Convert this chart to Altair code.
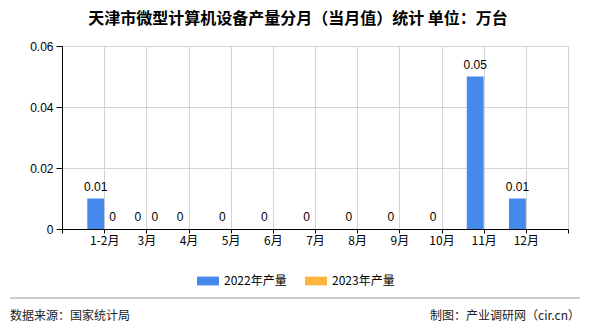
import altair as alt
import pandas as pd

months = ["1-2月", "3月", "4月", "5月", "6月", "7月", "8月", "9月", "10月", "11月", "12月"]
v2022 = [0.01, 0, 0, 0, 0, 0, 0, 0, 0, 0.05, 0.01]
months2023 = ["1-2月", "3月"]
v2023 = [0, 0]
series = ["2022年产量", "2023年产量"]
colors = ["#4489EB", "#FDB53F"]
y_ticks = [0, 0.02, 0.04, 0.06]
title_text = "天津市微型计算机设备产量分月（当月值）统计  单位：万台"
source_text = "数据来源：国家统计局"
credit_text = "制图：产业调研网（cir.cn）"

rows = []
for m, v in zip(months, v2022):
    rows.append({"month": m, "pos": months.index(m) + 1, "series": series[0], "value": v})
for m, v in zip(months2023, v2023):
    rows.append({"month": m, "pos": months.index(m) + 1, "series": series[1], "value": v})
df = pd.DataFrame(rows)

W, H = 506, 183
CJK = "Noto Sans CJK SC"
LAT = "Liberation Sans"

label_arr = "[" + ",".join("'%s'" % s for s in [""] + months + [""]) + "][datum.value]"

base = alt.Chart(df).transform_calculate(
    x0=f"datum.series == '{series[0]}' ? datum.pos - 0.4 : datum.pos",
    x1=f"datum.series == '{series[0]}' ? datum.pos : datum.pos + 0.4",
    xm=f"datum.series == '{series[0]}' ? datum.pos - 0.2 : datum.pos + 0.2",
)

xscale = alt.Scale(domain=[0, len(months) + 1], nice=False, zero=False, padding=0)
yscale = alt.Scale(domain=[0, 0.06], nice=False, padding=0)

bars = base.mark_bar().encode(
    x=alt.X("x0:Q", scale=xscale, axis=alt.Axis(
        values=list(range(len(months) + 2)), labelExpr=label_arr, grid=True,
        gridColor="#d4d4d4", domainColor="#000", tickColor="#000", tickSize=4,
        labelFont=CJK, labelFontSize=12, labelColor="#000", labelPadding=2, title=None)),
    x2="x1:Q",
    y=alt.Y("value:Q", scale=yscale, axis=alt.Axis(
        values=y_ticks, format=".2~f", grid=True, gridColor="#d4d4d4",
        domainColor="#000", tickColor="#000", tickSize=6, labelFont=LAT,
        labelFontSize=12, labelColor="#000", labelPadding=3, title=None)),
    y2=alt.datum(0),
    color=alt.Color("series:N", scale=alt.Scale(domain=series, range=colors),
                    legend=alt.Legend(orient="none", legendX=135, legendY=224,
                                      direction="horizontal", title=None,
                                      symbolType="M-1,-0.4L1,-0.4L1,0.4L-1,0.4Z",
                                      symbolSize=484, symbolStrokeWidth=0,
                                      labelFont=CJK, labelFontSize=12, labelColor="#000",
                                      labelOffset=5, columnPadding=18)),
)

labels = base.mark_text(dy=-8, baseline="alphabetic", fontSize=12, font=LAT, color="#000").encode(
    x="xm:Q", y="value:Q", text=alt.Text("value:Q", format=".2~f"))

info = pd.DataFrame({"title": [title_text], "src": [source_text], "credit": [credit_text]})
ib = alt.Chart(info)
title = ib.mark_text(fontSize=16, font=CJK, fontWeight="bold", align="center", baseline="middle", color="#000").encode(
    x=alt.value(236), y=alt.value(-27), text="title:N")
src = ib.mark_text(fontSize=12, font=CJK, align="left", baseline="middle", color="#222").encode(
    x=alt.value(-52), y=alt.value(270), text="src:N")
credit = ib.mark_text(fontSize=12, font=CJK, align="right", baseline="middle", color="#222").encode(
    x=alt.value(518), y=alt.value(270), text="credit:N")
line = ib.mark_rule(color="#999", strokeWidth=1).encode(
    x=alt.value(-52), x2=alt.value(518), y=alt.value(252))

chart = alt.layer(bars, labels, title, src, credit, line).properties(
    width=W, height=H,
    autosize=alt.AutoSizeParams(type="none"),
    padding={"left": 62, "top": 46, "right": 22, "bottom": 101},
).configure_view(stroke=None).configure(background="#ffffff")

chart.save("out.html", embed_options={"renderer": "svg", "actions": False})
